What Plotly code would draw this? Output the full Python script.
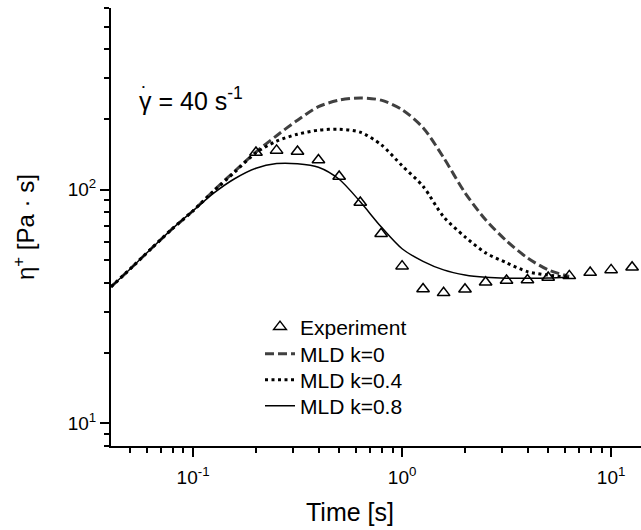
import plotly.graph_objects as go
import math

# ---- data ----
exp_time = [0.2, 0.251, 0.316, 0.398, 0.5, 0.631, 0.794, 1.0, 1.26, 1.58, 2.0,
            2.51, 3.16, 3.98, 5.0, 6.31, 7.94, 10.0, 12.6]
exp_eta = [144.5, 147.4, 145.9, 134.0, 114.0, 88.2, 64.8, 47.1, 37.6, 36.2, 37.5,
           40.2, 40.9, 41.1, 42.1, 42.8, 44.2, 45.4, 46.6]

model_time = [0.0405, 0.05, 0.063, 0.079, 0.1, 0.126, 0.158, 0.2, 0.251, 0.316,
              0.398, 0.5, 0.631, 0.794, 1.0, 1.26, 1.58, 2.0, 2.51, 3.16, 3.98,
              5.0, 6.3]
mld_k0 = [38.4, 45.8, 55.9, 67.7, 81.3, 99.5, 120.0, 145.0, 170.4, 198.6, 226.9,
          241.9, 247.2, 241.9, 220.3, 184.4, 137.2, 97.1, 74.4, 60.4, 51.1, 45.4, 42.6]
mld_k04 = [38.4, 45.8, 55.9, 67.7, 81.3, 99.0, 118.9, 144.1, 161.4, 172.9, 179.9,
           181.7, 176.4, 155.9, 126.7, 103.5, 76.6, 62.9, 53.7, 48.7, 44.6, 43.1, 42.2]
mld_k08 = [38.4, 45.8, 55.9, 67.7, 81.3, 97.0, 111.5, 123.7, 129.4, 129.2, 124.9,
           110.9, 88.8, 69.4, 55.9, 49.4, 45.4, 43.2, 42.2, 41.8, 41.8, 41.9, 42.2]

x_ticks = [0.1, 1, 10]
x_ticktext = ["10<sup>-1</sup>", "10<sup>0</sup>", "10<sup>1</sup>"]
y_ticks = [10, 100]
y_ticktext = ["10<sup>1</sup>", "10<sup>2</sup>"]

x_range = [0.0405, 13.9]
y_range = [8.0, 600.0]

FONT = "Arial, Liberation Sans, Helvetica, sans-serif"

fig = go.Figure()

fig.add_trace(go.Scatter(
    x=model_time, y=mld_k0, mode="lines", name="MLD k=0", legend="legend2",
    line=dict(color="#404040", width=3, dash="9px,4px", shape="spline", smoothing=0.8)))
fig.add_trace(go.Scatter(
    x=model_time, y=mld_k04, mode="lines", name="MLD k=0.4", legend="legend3",
    line=dict(color="black", width=3, dash="3px,3.5px", shape="spline", smoothing=0.8)))
fig.add_trace(go.Scatter(
    x=model_time, y=mld_k08, mode="lines", name="MLD k=0.8", legend="legend4",
    line=dict(color="black", width=1.5, shape="spline", smoothing=0.8)))
fig.add_trace(go.Scatter(
    x=exp_time, y=exp_eta, mode="markers", name="Experiment", legend="legend",
    marker=dict(symbol="triangle-up-open", size=11, color="black",
                line=dict(width=1.5, color="black"))))

axis_common = dict(
    type="log", showgrid=False, zeroline=False, showline=True, linecolor="black",
    linewidth=2, ticks="outside", ticklen=9, tickwidth=2, tickcolor="black",
    automargin=False,
    tickfont=dict(family=FONT, size=19, color="black"),
    minor=dict(ticks="outside", ticklen=5, tickwidth=2, tickcolor="black",
               tickmode="linear", tick0=0, dtick="D1", showgrid=False),
)

fig.update_xaxes(range=[math.log10(x_range[0]), math.log10(x_range[1])],
                 tickmode="array", tickvals=x_ticks, ticktext=x_ticktext,
                 ticklabelstandoff=4, **axis_common)
fig.update_yaxes(range=[math.log10(y_range[0]), math.log10(y_range[1])],
                 tickmode="array", tickvals=y_ticks, ticktext=y_ticktext, **axis_common)


def leg(row_px):
    return dict(x=(300 - 111) / 530 - 40 / 530, y=(446 - row_px) / 438,
                xanchor="left", yanchor="middle", bgcolor="rgba(0,0,0,0)",
                borderwidth=0, font=dict(family=FONT, size=21, color="black"))


fig.update_layout(
    width=641, height=530,
    margin=dict(l=111, r=0, t=8, b=84),
    paper_bgcolor="white", plot_bgcolor="white",
    font=dict(family=FONT, color="black"),
    showlegend=True,
    legend=leg(327), legend2=leg(354), legend3=leg(380), legend4=leg(406),
    annotations=[
        dict(text="γ = 40 s<sup>-1</sup>", xref="paper", yref="paper",
             x=(137 - 111) / 530, y=(446 - 99) / 438, xanchor="left", yanchor="middle",
             showarrow=False, font=dict(family=FONT, size=25, color="black")),
        dict(text="•", xref="paper", yref="paper",
             x=(143 - 111) / 530, y=(446 - 86) / 438, xanchor="center", yanchor="middle",
             showarrow=False, font=dict(family=FONT, size=8, color="black")),
        dict(text="Time [s]", xref="paper", yref="paper",
             x=(350 - 111) / 530, y=-(512 - 446) / 438, xanchor="center",
             yanchor="middle", showarrow=False,
             font=dict(family=FONT, size=25, color="black")),
        dict(text="η<sup>+</sup> [Pa · s]", xref="paper", yref="paper",
             x=(24 - 111) / 530, y=0.5, xanchor="center", yanchor="middle",
             textangle=-90, showarrow=False,
             font=dict(family=FONT, size=24, color="black")),
    ],
)

fig.write_html("out.html", config={"displayModeBar": False},
               post_script="document.body.style.margin='0px';document.body.style.padding='0px';")
